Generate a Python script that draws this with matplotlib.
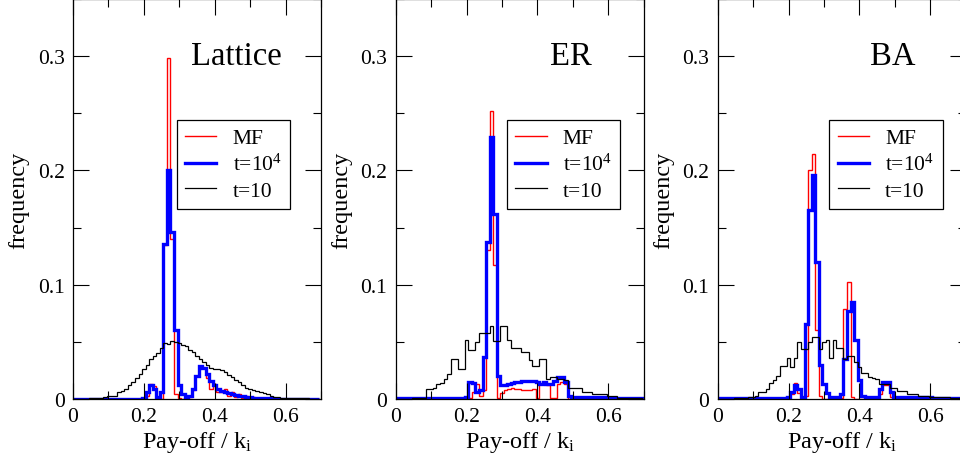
import numpy as np
import matplotlib
matplotlib.use("Agg")
import matplotlib.pyplot as plt
from matplotlib.lines import Line2D
from matplotlib.ticker import MultipleLocator

plt.rcParams['font.family'] = ['Liberation Serif', 'DejaVu Serif']
plt.rcParams['mathtext.fontset'] = 'custom'
plt.rcParams['mathtext.rm'] = 'Liberation Serif'
plt.rcParams['mathtext.it'] = 'Liberation Serif:italic'

# histogram bins: width 0.01, centred on 0.00 ... 0.69
bin_edges = np.arange(71) * 0.01 - 0.005

panel_names = ["Lattice", "ER", "BA"]
legend_labels = ["MF", "t=10$^4$", "t=10"]

lattice_mf = [0] * 21 + [
    0.003, 0.013, 0.011, 0.002, 0.0, 0.135, 0.298, 0.140, 0.004,
    0.001, 0.0, 0.0, 0.002, 0.008, 0.020, 0.028, 0.027, 0.018, 0.009,
    0.013, 0.006, 0.006, 0.009, 0.003, 0.006, 0.002, 0.004, 0.001, 0.003,
    0.001, 0.002, 0.0005, 0, 0, 0, 0, 0, 0, 0] + [0] * 10
lattice_t4 = [0.0003] * 20 + [
    0.001, 0.006, 0.012, 0.009, 0.002, 0.006, 0.136, 0.200, 0.146, 0.060,
    0.012, 0.004, 0.002, 0.003, 0.009, 0.020, 0.029, 0.027, 0.022, 0.016,
    0.012, 0.009, 0.007, 0.006, 0.005, 0.004, 0.0035, 0.003, 0.0025, 0.002,
    0.0015, 0.001, 0.0007, 0.0007, 0.0007, 0.0007, 0.0007, 0.0003, 0.0003, 0.0003] + [0.0003] * 10
lattice_t10 = [
    0, 0, 0, 0, 0, 0.0005, 0.0005, 0.001, 0.001, 0.0015,
    0.003, 0.003, 0.003, 0.006, 0.007, 0.009, 0.012, 0.015, 0.018, 0.022,
    0.026, 0.030, 0.035, 0.038, 0.040, 0.045, 0.049, 0.048, 0.051, 0.050,
    0.049, 0.047, 0.046, 0.043, 0.041, 0.038, 0.035, 0.032, 0.030, 0.027,
    0.026, 0.026, 0.025, 0.024, 0.021, 0.019, 0.017, 0.015, 0.012, 0.010,
    0.009, 0.008, 0.007, 0.006, 0.005, 0.004, 0.003, 0.002, 0.0015, 0.001,
    0.001, 0.0008, 0.0008, 0.0008, 0.0008, 0.0008, 0.0008, 0.0003, 0.0003, 0.0003]

er_mf = [0] * 21 + [
    0.001, 0.006, 0.013, 0.003, 0.008, 0.130, 0.252, 0.117, 0.001,
    0.005, 0.008, 0.009, 0.0095, 0.009, 0.009, 0.008, 0.008, 0.008, 0.009,
    0.001, 0.013, 0.015, 0.012, 0.001, 0.001, 0.013, 0.015, 0.013, 0.0] + [0] * 20
er_t4 = [0.0005] * 20 + [
    0.002, 0.015, 0.014, 0.006, 0.008, 0.037, 0.137, 0.229, 0.162, 0.020,
    0.012, 0.012, 0.013, 0.014, 0.015, 0.015, 0.016, 0.016, 0.016, 0.016,
    0.015, 0.013, 0.015, 0.013, 0.013, 0.016, 0.019, 0.019, 0.0146, 0.003] + [0.0015] * 10 + [0.001] * 10
er_t10 = [
    0, 0, 0, 0, 0, 0.001, 0.001, 0.001, 0.001, 0.009,
    0.009, 0.010, 0.013, 0.014, 0.0175, 0.022, 0.035, 0.035, 0.026, 0.026,
    0.052, 0.043, 0.043, 0.050, 0.058, 0.058, 0.058, 0.064, 0.051, 0.051,
    0.064, 0.064, 0.052, 0.045, 0.045, 0.045, 0.041, 0.041, 0.034, 0.029,
    0.029, 0.035, 0.035, 0.0175, 0.019, 0.019, 0.0175, 0.0175, 0.017, 0.010,
    0.0095, 0.0095, 0.0095, 0.0065, 0.0065, 0.0065, 0.0045, 0.0045, 0.0045, 0.0045,
    0.0025, 0.0025, 0.0025, 0.001, 0.001, 0.001, 0.001, 0.001, 0.001, 0.001]

ba_mf = [0] * 21 + [
    0.004, 0.014, 0.005, 0.0, 0.003, 0.200, 0.214, 0.060, 0.003,
    0, 0, 0, 0, 0, 0.001, 0.079, 0.102, 0.002, 0,
    0, 0, 0, 0, 0, 0.001, 0.004, 0.012, 0.012, 0.002] + [0] * 20
ba_t4 = [0.0005] * 20 + [
    0.002, 0.006, 0.012, 0.009, 0.0015, 0.066, 0.165, 0.196, 0.120, 0.030,
    0.013, 0.005, 0.002, 0.0015, 0.002, 0.004, 0.035, 0.077, 0.085, 0.052,
    0.017, 0.003, 0.0015, 0.0015, 0.0015, 0.0015, 0.009, 0.015, 0.015, 0.006,
    0.0015, 0.0015, 0.0015, 0.0015, 0.0015, 0.0015, 0.0015, 0.0015, 0.002, 0.002,
    0.002] + [0.001] * 9
ba_t10 = [
    0, 0, 0, 0, 0, 0.0005, 0.0005, 0.0005, 0.0005, 0.0015,
    0.0015, 0.003, 0.006, 0.006, 0.009, 0.014, 0.017, 0.020, 0.029, 0.029,
    0.036, 0.028, 0.036, 0.050, 0.044, 0.044, 0.050, 0.054, 0.054, 0.044,
    0.050, 0.052, 0.036, 0.052, 0.045, 0.045, 0.035, 0.038, 0.038, 0.032,
    0.028, 0.023, 0.023, 0.019, 0.018, 0.0175, 0.013, 0.013, 0.013, 0.010,
    0.010, 0.007, 0.007, 0.007, 0.0045, 0.0045, 0.0045, 0.0025, 0.0025, 0.0025,
    0.0015, 0.0015, 0.0015, 0.0015, 0.0015, 0.0015, 0.001, 0.001, 0.001, 0.001]

panels = [
    (lattice_mf, lattice_t4, lattice_t10),
    (er_mf, er_t4, er_t10),
    (ba_mf, ba_t4, ba_t10),
]

colors = ["#ff0000", "#0000ff", "#000000"]
widths = [1.0, 2.4, 0.9]

fig = plt.figure(figsize=(9.6, 4.64), dpi=100)
lefts = [73, 395.7, 717.7]
legend_x = [0.418, 0.448, 0.449]
title_x = [0.460, 0.494, 0.493]

for i, (name, series) in enumerate(zip(panel_names, panels)):
    ax = fig.add_axes([lefts[i] / 960, 64 / 464, 248 / 960, 400 / 464])
    for vals, c, lw in zip(series, colors, widths):
        ax.stairs(vals, bin_edges, color=c, lw=lw, baseline=0)
    ax.set_xlim(0, 0.7)
    ax.set_ylim(0, 0.35)
    ax.xaxis.set_major_locator(MultipleLocator(0.2))
    ax.xaxis.set_minor_locator(MultipleLocator(0.1))
    ax.yaxis.set_major_locator(MultipleLocator(0.1))
    ax.yaxis.set_minor_locator(MultipleLocator(0.05))
    ax.set_xticks([0, 0.2, 0.4, 0.6])
    ax.set_xticklabels(["0", "0.2", "0.4", "0.6"])
    ax.set_yticks([0, 0.1, 0.2, 0.3])
    ax.set_yticklabels(["0", "0.1", "0.2", "0.3"])
    ax.tick_params(which='both', direction='in', top=True, right=True,
                   width=0.8, labelsize=15.5, pad=6)
    ax.tick_params(which='major', length=11.5)
    ax.tick_params(which='minor', length=5.8)
    for sp in ax.spines.values():
        sp.set_linewidth(0.9)
    ax.set_xlabel("Pay-off / k$_\\mathrm{i}$", fontsize=17.5, labelpad=2)
    ax.set_ylabel("frequency", fontsize=17.5, labelpad=6)
    ax.text(title_x[i], 0.293, name, fontsize=23.5, ha='center', va='baseline')

    handles = [Line2D([], [], color=c, lw=lw) for c, lw in zip(colors, widths)]
    leg = ax.legend(handles, legend_labels, loc='upper left',
                    bbox_to_anchor=(legend_x[i], 0.698), borderaxespad=0,
                    fontsize=15.5, fancybox=False, framealpha=1,
                    edgecolor='black', handlelength=1.45, handletextpad=0.75,
                    labelspacing=0.25, borderpad=0.4)
    leg.get_frame().set_linewidth(0.9)

fig.savefig("out.png", dpi=100)
